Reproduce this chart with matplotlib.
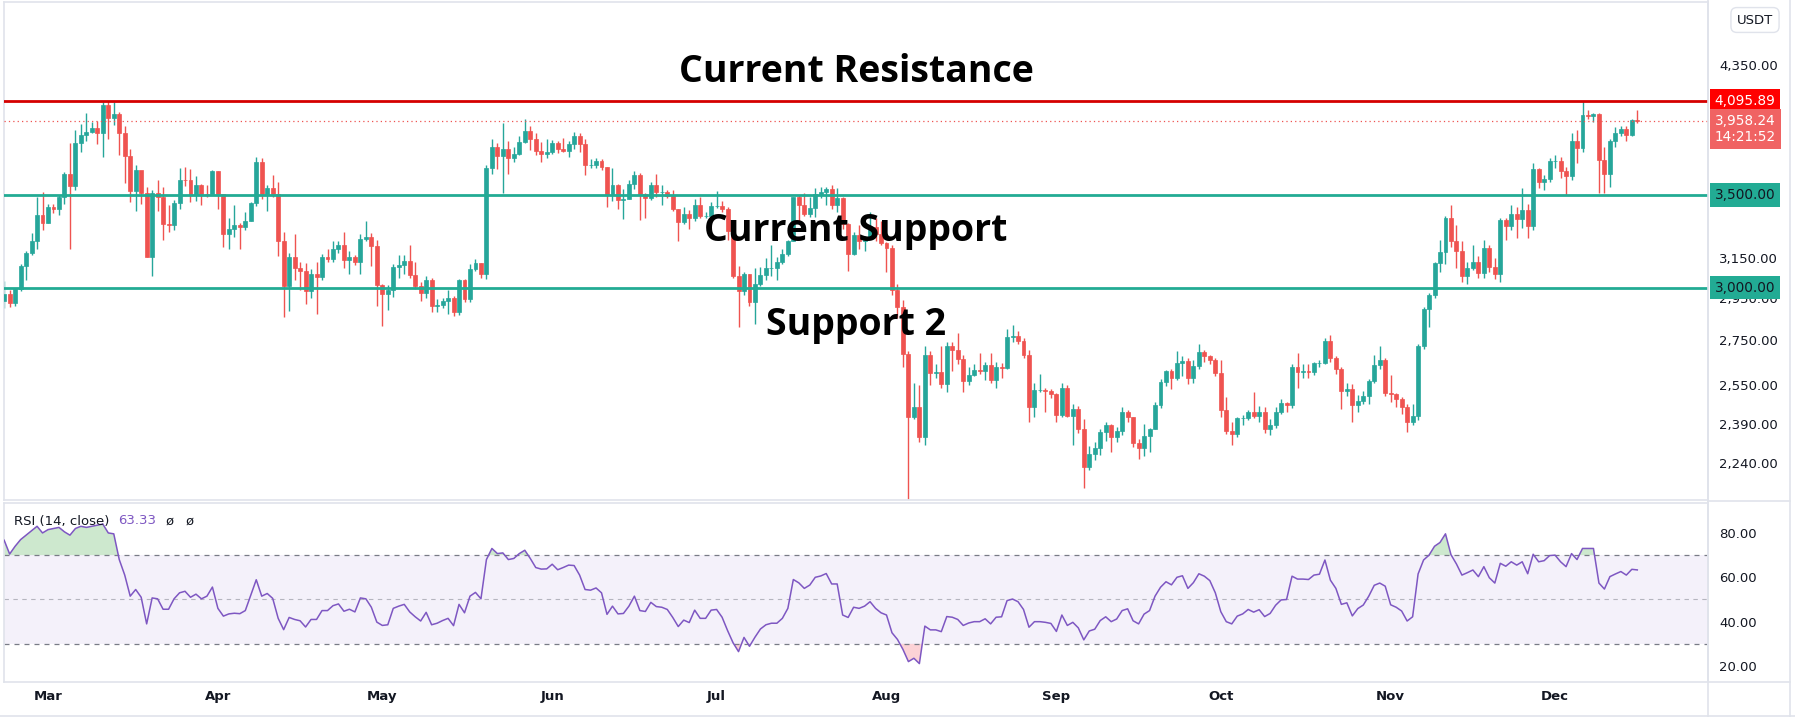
import numpy as np
import pandas as pd
import matplotlib
matplotlib.use("Agg")
import matplotlib.pyplot as plt
import matplotlib.dates as mdates
from matplotlib.lines import Line2D
from matplotlib.transforms import blended_transform_factory
from matplotlib.ticker import FixedLocator, NullLocator, NullFormatter, FuncFormatter

# ETH/USDT daily candles, 2024-02-22 .. 2024-12-16
start_date = "2024-02-22"
first_open = 2935
close = [
    2970, 2922, 2993, 3112, 3178, 3243, 3385, 3340,
    3433, 3421, 3487, 3628, 3552, 3818, 3868, 3885, 3917, 3880, 4067, 3979, 4005, 3880, 3734, 3521,
    3647, 3515, 3156, 3515, 3491, 3333, 3329, 3452, 3590, 3588, 3500, 3561, 3509, 3507, 3645,
    3505, 3278, 3310, 3331, 3318, 3353, 3454, 3698, 3505, 3542, 3505, 3240, 3007, 3156, 3101,
    3084, 2984, 3067, 3055, 3156, 3148, 3202, 3220, 3140, 3156, 3131, 3255, 3263, 3217, 3014,
    2970, 2990, 3104, 3117, 3137, 3063, 3008, 2974, 3036, 2910, 2912, 2932, 2950, 2881, 3037,
    2945, 3093, 3124, 3071, 3663, 3790, 3738, 3781, 3726, 3750, 3826, 3892, 3841, 3767, 3748, 3762,
    3815, 3780, 3767, 3812, 3865, 3811, 3680, 3681, 3706, 3668, 3500, 3561, 3470, 3480, 3567,
    3622, 3508, 3481, 3560, 3516, 3518, 3494, 3418, 3349, 3394, 3371, 3445, 3378, 3380, 3435,
    3439, 3418, 3295, 3059, 2985, 3070, 2929, 3018, 3064, 3100, 3100, 3133, 3175, 3244, 3486,
    3442, 3389, 3425, 3506, 3517, 3536, 3442, 3481, 3336, 3171, 3276, 3240, 3255, 3319, 3279, 3230,
    3203, 2989, 2906, 2687, 2418, 2459, 2340, 2680, 2601, 2608, 2556, 2723, 2703, 2664, 2569,
    2593, 2614, 2611, 2636, 2573, 2630, 2625, 2762, 2769, 2746, 2680, 2457, 2528, 2529, 2526, 2513,
    2425, 2538, 2424, 2449, 2369, 2225, 2272, 2298, 2359, 2388, 2340, 2361, 2440, 2418, 2316,
    2295, 2341, 2372, 2468, 2562, 2613, 2582, 2646, 2654, 2580, 2633, 2695, 2677, 2658, 2602,
    2448, 2364, 2349, 2414, 2415, 2440, 2422, 2440, 2370, 2386, 2438, 2477, 2468, 2629, 2606,
    2612, 2605, 2644, 2647, 2746, 2667, 2620, 2526, 2535, 2469, 2484, 2505, 2568, 2639, 2658, 2519,
    2512, 2493, 2457, 2398, 2422, 2720, 2895, 2963, 3126, 3183, 3371, 3244, 3188, 3059, 3102,
    3132, 3073, 3205, 3107, 3068, 3355, 3324, 3393, 3361, 3414, 3327, 3654, 3578, 3594, 3703,
    3706, 3645, 3616, 3831, 3786, 4000, 3996, 4006, 3712, 3628, 3832, 3881, 3906, 3871, 3964, 3958.24,
]
high = [
    3033, 2990, 3000, 3120, 3190, 3285, 3490, 3520,
    3450, 3450, 3500, 3640, 3820, 3900, 3940, 4010, 3950, 3960, 4090, 4093, 4085, 4020, 3930, 3780,
    3680, 3615, 3550, 3530, 3590, 3545, 3440, 3470, 3660, 3670, 3655, 3615, 3565, 3560, 3650,
    3645, 3500, 3370, 3440, 3343, 3400, 3460, 3730, 3725, 3560, 3620, 3575, 3290, 3180, 3280,
    3130, 3125, 3095, 3130, 3175, 3200, 3240, 3240, 3290, 3190, 3165, 3280, 3350, 3285, 3250,
    3020, 3015, 3120, 3170, 3170, 3220, 3130, 3030, 3060, 3050, 2945, 2950, 2990, 2960, 3045,
    3045, 3120, 3145, 3125, 3680, 3840, 3815, 3945, 3830, 3790, 3860, 3975, 3930, 3880, 3825, 3845,
    3835, 3830, 3850, 3830, 3885, 3880, 3840, 3715, 3720, 3718, 3670, 3660, 3565, 3535, 3590,
    3645, 3630, 3515, 3575, 3625, 3560, 3530, 3530, 3420, 3430, 3415, 3480, 3490, 3400, 3460,
    3525, 3465, 3430, 3305, 3110, 3080, 3070, 3100, 3105, 3150, 3220, 3155, 3200, 3250, 3490,
    3500, 3515, 3490, 3540, 3545, 3545, 3560, 3540, 3490, 3340, 3290, 3330, 3270, 3400, 3370, 3350,
    3235, 3220, 3020, 2940, 2700, 2560, 2550, 2720, 2700, 2640, 2720, 2740, 2740, 2780, 2680,
    2630, 2640, 2690, 2650, 2690, 2650, 2645, 2800, 2820, 2790, 2760, 2705, 2560, 2600, 2540, 2535,
    2518, 2560, 2550, 2470, 2465, 2410, 2305, 2320, 2370, 2400, 2390, 2380, 2460, 2445, 2420,
    2330, 2390, 2375, 2480, 2575, 2615, 2620, 2700, 2675, 2670, 2660, 2730, 2705, 2680, 2670,
    2660, 2500, 2400, 2420, 2425, 2445, 2520, 2465, 2460, 2410, 2460, 2490, 2480, 2640, 2690,
    2640, 2640, 2650, 2660, 2760, 2770, 2675, 2630, 2560, 2555, 2510, 2525, 2575, 2680, 2720, 2670,
    2595, 2515, 2500, 2470, 2470, 2730, 2905, 2975, 3130, 3250, 3380, 3445, 3330, 3240, 3130,
    3220, 3160, 3250, 3220, 3150, 3370, 3370, 3440, 3430, 3540, 3450, 3690, 3660, 3620, 3720,
    3740, 3730, 3670, 3880, 3900, 4095, 4030, 4010, 4010, 3790, 3840, 3920, 3930, 3930, 3975, 4030,
]
low = [
    2900, 2905, 2910, 2985, 3040, 3170, 3200, 3300,
    3340, 3395, 3385, 3450, 3200, 3530, 3760, 3830, 3880, 3810, 3730, 3845, 3935, 3740, 3570, 3460,
    3410, 3450, 3155, 3060, 3410, 3250, 3290, 3300, 3420, 3555, 3460, 3465, 3445, 3490, 3505,
    3420, 3210, 3200, 3265, 3200, 3300, 3350, 3435, 3480, 3410, 3490, 3160, 2855, 2885, 3040,
    2990, 2920, 2950, 2870, 3040, 3130, 3130, 3180, 3100, 3070, 3115, 3070, 3240, 3110, 2910,
    2815, 2890, 2955, 3050, 3070, 3050, 2995, 2935, 2950, 2880, 2880, 2900, 2870, 2860, 2865,
    2930, 2930, 3085, 3050, 3045, 3625, 3655, 3510, 3625, 3700, 3740, 3820, 3775, 3740, 3700, 3725,
    3750, 3755, 3760, 3730, 3780, 3760, 3620, 3660, 3660, 3650, 3430, 3465, 3420, 3365, 3475,
    3535, 3360, 3370, 3470, 3490, 3445, 3485, 3410, 3240, 3335, 3310, 3350, 3370, 3370, 3360,
    3425, 3400, 3245, 3050, 2810, 2965, 2910, 2825, 3010, 3040, 3060, 3040, 3120, 3160, 3240,
    3350, 3380, 3375, 3375, 3485, 3440, 3420, 3400, 3310, 3085, 3170, 3200, 3190, 3300, 3240, 3220,
    3080, 2965, 2850, 2630, 2111, 2410, 2320, 2310, 2550, 2580, 2540, 2520, 2610, 2640, 2520,
    2550, 2590, 2600, 2570, 2560, 2540, 2580, 2620, 2740, 2730, 2670, 2400, 2420, 2520, 2440, 2495,
    2400, 2420, 2420, 2310, 2355, 2150, 2215, 2250, 2270, 2325, 2280, 2320, 2345, 2400, 2300,
    2255, 2265, 2280, 2370, 2455, 2545, 2535, 2570, 2590, 2555, 2560, 2620, 2650, 2640, 2590,
    2420, 2350, 2310, 2340, 2385, 2405, 2415, 2400, 2355, 2345, 2375, 2430, 2440, 2455, 2540,
    2580, 2580, 2595, 2630, 2640, 2650, 2600, 2450, 2505, 2400, 2440, 2470, 2470, 2560, 2620, 2505,
    2480, 2460, 2430, 2360, 2385, 2405, 2710, 2810, 2950, 3080, 3120, 3210, 3100, 3030, 3020,
    3090, 3050, 3050, 3080, 3045, 3030, 3245, 3300, 3260, 3315, 3260, 3300, 3540, 3530, 3580,
    3660, 3600, 3500, 3590, 3690, 3760, 3970, 3950, 3515, 3515, 3545, 3790, 3860, 3830, 3860, 3945,
]
rsi = [
    76.7, 70.5, 74, 77, 79, 81, 83, 80,
    81.5, 82, 82.5, 80.5, 79, 82, 83, 82.5, 83, 83.5,
    84, 80, 79.6, 68, 61, 51.5, 54.5, 51, 39, 50.7,
    50.3, 45.6, 45.6, 50.3, 53, 53.7, 51, 52.4, 50.3, 51.5,
    55.6, 46, 42.5, 43.5, 43.8, 43.6, 45, 52, 58.9, 51.5,
    52.7, 50.5, 41.5, 36.4, 41.9, 41, 40.4, 37.6, 41, 41,
    45, 45, 47.2, 48, 44.7, 45.6, 44.4, 50.7, 50.3, 46.5,
    39.8, 38.3, 38.6, 46, 47, 47.8, 44.4, 42.2, 40.3, 44.2,
    38.6, 39.3, 40.5, 41.5, 38.2, 47.8, 44, 51.5, 53.2, 50.3,
    68, 73, 70.7, 71, 68, 68.5, 70.7, 72.2, 68.5, 64.4,
    63.7, 63.8, 65.9, 63.4, 64.4, 65.5, 65.3, 61, 54.5, 54.2,
    55.2, 53, 43.3, 47, 43.5, 43.7, 47, 51.5, 45, 44.6,
    48.7, 46.8, 46.5, 45.5, 41.9, 37.8, 40.7, 39.6, 45.2, 41.5,
    41.5, 45.2, 45.5, 42, 36, 30.5, 26.5, 32.9, 28.9, 33,
    36.7, 38.6, 39.3, 39.3, 41.5, 46, 59, 57.5, 55, 56.5,
    60, 60.6, 61.7, 57, 57, 43, 41.9, 46.5, 46, 47,
    49, 46, 44, 43, 35, 32, 27.5, 22, 23.5, 21.1,
    38, 36.3, 36.3, 35.5, 42.3, 42, 41, 38.3, 39.4, 40,
    40, 41.3, 39, 42, 42.2, 49.5, 50.2, 49, 45.5, 37.5,
    40, 40, 39.7, 39.2, 35.6, 43, 38.3, 39.7, 37.2, 31.8,
    35.8, 36.6, 40.5, 42.2, 40, 41.2, 45, 45.8, 40.4, 39,
    43.4, 45, 51.5, 55.5, 58, 56.6, 60, 60.7, 55, 57.6,
    61.6, 60.5, 58.5, 53, 44.5, 40, 39, 42.5, 43.5, 45.5,
    44.3, 45.4, 42.3, 43.7, 47.4, 49.8, 50, 60.5, 59.2, 59.2,
    59, 61, 61.4, 67.8, 58.7, 55, 47.8, 48.5, 42.6, 45.9,
    47.5, 51.5, 56.4, 57.4, 56, 47.6, 46.5, 44.8, 40.3, 42.2,
    61.5, 67.8, 70, 74, 75.7, 79.6, 70.2, 66, 61, 62.1,
    63.3, 60.3, 64.8, 59.8, 57.4, 66.3, 65, 67, 65.5, 67,
    61.6, 70.4, 67, 67.5, 69.8, 70, 67, 64.8, 70.7, 68,
    73, 73, 73, 57.4, 54.7, 60.3, 61.5, 62.6, 61, 63.6, 63.33,
]
month_labels = ["Mar", "Apr", "May", "Jun", "Jul", "Aug", "Sep", "Oct", "Nov", "Dec"]
price_ticks = [2240, 2390, 2550, 2750, 2950, 3150, 3550, 4350]
rsi_ticks = [20, 40, 60, 80]
resistance = 4095.89
supports = [3500.00, 3000.00]
last_price = 3958.24
countdown = "14:21:52"

UP, DOWN = "#26A69A", "#EF5350"
GRID = "#E0E3EB"
TXT = "#131722"

W, H = 1795, 717
fig = plt.figure(figsize=(W / 100, H / 100), dpi=100)
fig.patch.set_facecolor("white")


def box(l, t, r, b):
    return [l / W, 1 - b / H, (r - l) / W, (b - t) / H]


ax = fig.add_axes(box(4, 2, 1708, 500))
ax_rsi = fig.add_axes(box(4, 503, 1708, 682), sharex=ax)

dates = pd.date_range(start_date, periods=len(close), freq="D")
x = mdates.date2num(dates)
c = np.array(close, dtype=float)
o = np.array([first_open] + close[:-1], dtype=float)
hi = np.array(high, dtype=float)
lo = np.array(low, dtype=float)
colors = np.where(c >= o, UP, DOWN)

# candles
ax.vlines(x, lo, hi, colors=colors, lw=1.0, zorder=2)
ax.bar(x, np.abs(c - o), bottom=np.minimum(o, c), width=0.72,
       color=colors, edgecolor=colors, linewidth=0.5, zorder=3)

ax.set_yscale("log")
ax.set_ylim(2106, 4828)
x0 = mdates.date2num(pd.Timestamp(start_date))
ax.set_xlim(x0 - 0.03, x0 + 310.9)

# levels
ax.axhline(resistance, color="#D50000", lw=2, zorder=4)
for s in supports:
    ax.axhline(s, color="#22AB94", lw=2, zorder=4)
ax.axhline(last_price, color=DOWN, lw=0.9, ls=(0, (1, 2.5)), zorder=4)

# annotations
for txt, yv in [("Current Resistance", 4300), ("Current Support", 3298), ("Support 2", 2820)]:
    ax.text(0.5, yv, txt, transform=blended_transform_factory(ax.transAxes, ax.transData),
            ha="center", va="center", fontsize=27, fontweight="bold",
            family=["Open Sans", "DejaVu Sans"], color="black", zorder=10)

# right price scale
ax.yaxis.tick_right()
ax.yaxis.set_major_locator(FixedLocator(price_ticks))
ax.yaxis.set_minor_locator(NullLocator())
ax.yaxis.set_minor_formatter(NullFormatter())
ax.yaxis.set_major_formatter(FuncFormatter(lambda v, p: f"{v:,.2f}"))
ax.tick_params(axis="y", length=0, pad=8, labelsize=9.5, labelcolor=TXT)
ax.tick_params(axis="x", length=0, labelbottom=False)

tr = blended_transform_factory(ax.transAxes, ax.transData)
lab = dict(ha="left", va="center", fontsize=9.8, zorder=20, clip_on=False, transform=tr)
ax.text(1.004, resistance, f"{resistance:,.2f}", color="white",
        bbox=dict(boxstyle="square,pad=0.35", fc="#FF0000", ec="none"), **lab)
ax.text(1.004, last_price * 0.987, f"{last_price:,.2f}\n{countdown}", color="white", linespacing=1.15,
        bbox=dict(boxstyle="square,pad=0.35", fc="#F06363", ec="none"), **lab)
for s in supports:
    ax.text(1.004, s, f"{s:,.2f}", color=TXT,
            bbox=dict(boxstyle="square,pad=0.35", fc="#22AB94", ec="none"), **lab)

# RSI pane
rv = np.array(rsi, dtype=float)
ax_rsi.axhspan(30, 70, color="#7E57C2", alpha=0.08, lw=0)
ax_rsi.fill_between(x, rv, 70, where=rv >= 70, interpolate=True, color="#4CAF50", alpha=0.28, lw=0)
ax_rsi.fill_between(x, rv, 30, where=rv <= 30, interpolate=True, color="#F23645", alpha=0.22, lw=0)
ax_rsi.plot(x, rv, color="#7E57C2", lw=1.1, zorder=3)
ax_rsi.axhline(70, color="#787B86", lw=0.9, ls=(0, (4, 4)))
ax_rsi.axhline(30, color="#787B86", lw=0.9, ls=(0, (4, 4)))
ax_rsi.axhline(50, color="#787B86", lw=0.8, ls=(0, (4, 4)), alpha=0.5)
ax_rsi.set_ylim(12.8, 93.5)
ax_rsi.yaxis.tick_right()
ax_rsi.yaxis.set_major_locator(FixedLocator(rsi_ticks))
ax_rsi.yaxis.set_major_formatter(FuncFormatter(lambda v, p: f"{v:.2f}"))
ax_rsi.tick_params(axis="y", length=0, pad=8, labelsize=9.5, labelcolor=TXT)

months = pd.date_range("2024-03-01", periods=len(month_labels), freq="MS")
ax_rsi.set_xticks(mdates.date2num(months))
ax_rsi.set_xticklabels(month_labels, fontsize=9.5, fontweight="bold", color=TXT)
ax_rsi.tick_params(axis="x", length=0, pad=6)

for a in (ax, ax_rsi):
    a.set_facecolor("white")
    for sp in a.spines.values():
        sp.set_color(GRID)
        sp.set_linewidth(1.2)

fig.text(14 / W, 1 - 521 / H, "RSI (14, close)", fontsize=9.5, color=TXT, va="center")
fig.text(118 / W, 1 - 521 / H, "63.33", fontsize=9.5, color="#7E57C2", va="center")
fig.text(166 / W, 1 - 521 / H, "ø", fontsize=9.5, color=TXT, va="center")
fig.text(186 / W, 1 - 521 / H, "ø", fontsize=9.5, color=TXT, va="center")

fig.text(1755 / W, 1 - 20 / H, "USDT", fontsize=9.5, color=TXT, ha="center", va="center",
         bbox=dict(boxstyle="round,pad=0.45", fc="white", ec=GRID, lw=1))

for seg in [((1708, 1708), (0, 717)), ((1790, 1790), (0, 717)),
            ((1708, 1790), (501, 501)), ((1708, 1790), (682, 682)), ((0, 1795), (716, 716))]:
    fig.add_artist(Line2D([v / W for v in seg[0]], [1 - v / H for v in seg[1]], color=GRID, lw=1.2))

fig.savefig("out.png", dpi=100, facecolor="white")
